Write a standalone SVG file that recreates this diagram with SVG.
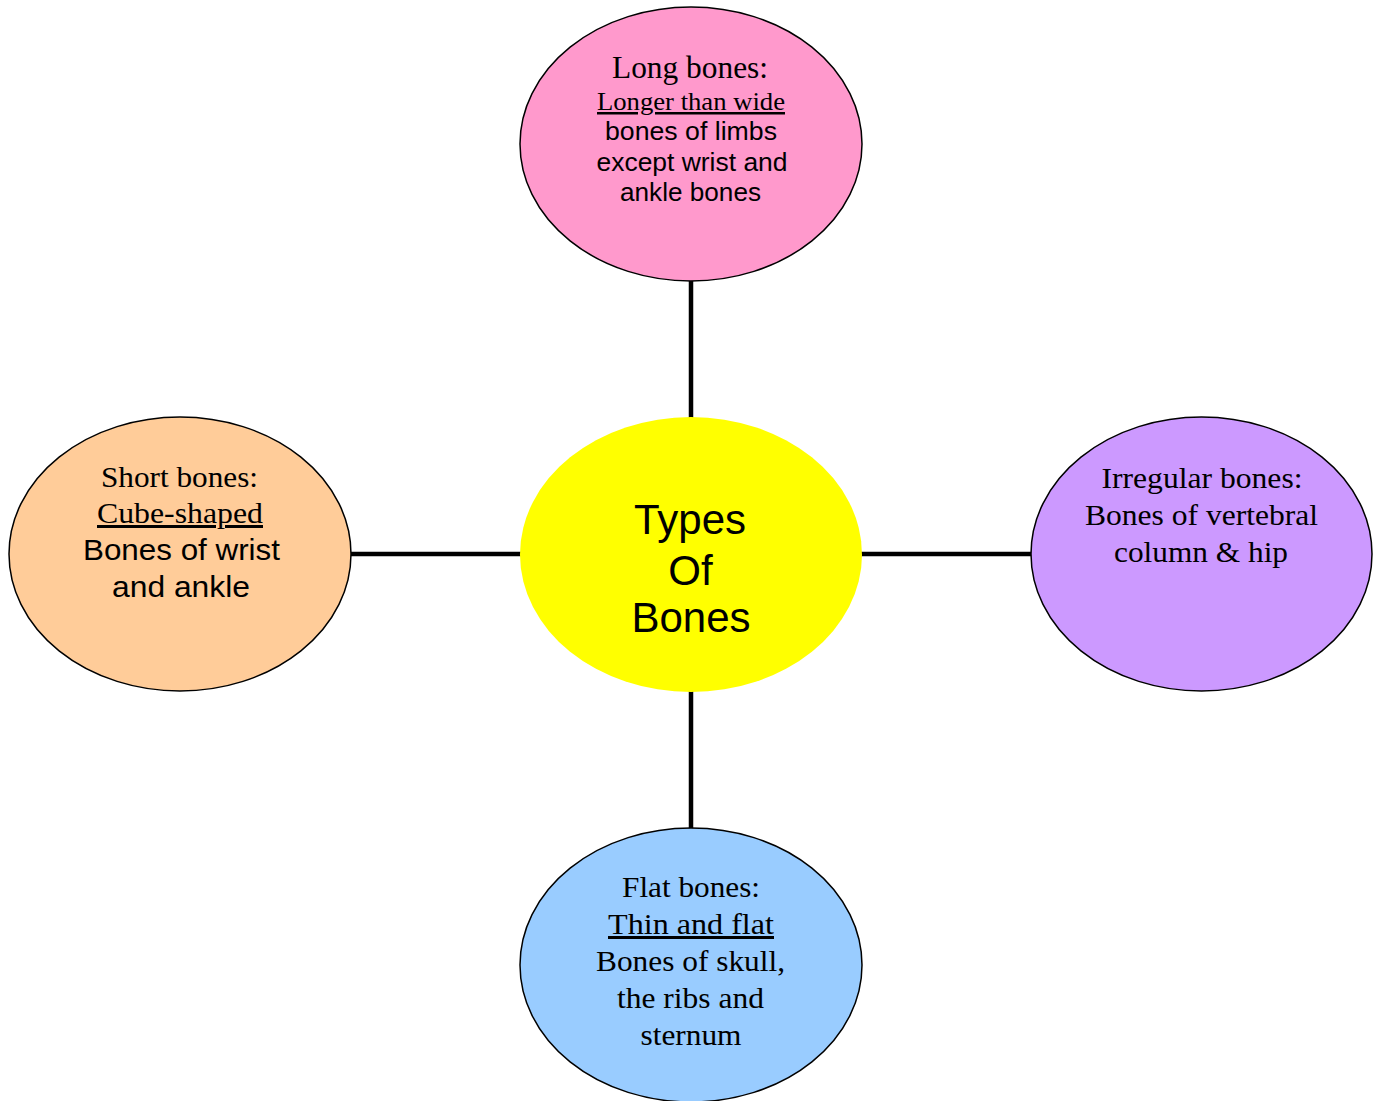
<svg xmlns="http://www.w3.org/2000/svg" width="1378" height="1101" viewBox="0 0 1378 1101">
<style>
.node{stroke:#000;stroke-width:1.5}
.serif{font-family:"Liberation Serif","Times New Roman",serif;fill:#000;text-anchor:middle}
.sans{font-family:"Liberation Sans",Arial,sans-serif;fill:#000;text-anchor:middle}
.u{text-decoration:underline}
.conn{stroke:#000;stroke-width:4.5;fill:none}
</style>
<rect width="1378" height="1101" fill="#fff"/>
<g id="connectors">
<line class="conn" x1="691" y1="281" x2="691" y2="418"/>
<line class="conn" x1="691" y1="691" x2="691" y2="829"/>
<line class="conn" x1="350" y1="554" x2="521" y2="554"/>
<line class="conn" x1="861" y1="554" x2="1032" y2="554"/>
</g>
<g id="center">
<ellipse cx="691" cy="554.5" rx="171" ry="137.5" fill="#FFFF00"/>
<text class="sans" font-size="42"><tspan x="690" y="534">Types</tspan><tspan x="690.5" y="585">Of</tspan><tspan x="691" y="632">Bones</tspan></text>
</g>
<g id="long-bones">
<ellipse class="node" cx="691" cy="144" rx="171" ry="137" fill="#FF99CC"/>
<text class="serif" font-size="30.5" x="690" y="78" textLength="156" lengthAdjust="spacingAndGlyphs">Long bones:</text>
<text class="serif u" font-size="25" x="691" y="110" textLength="188" lengthAdjust="spacingAndGlyphs">Longer than wide</text>
<text class="sans" font-size="25.5" x="691" y="140" textLength="172" lengthAdjust="spacingAndGlyphs">bones of limbs</text>
<text class="sans" font-size="25.5" x="692" y="171" textLength="191" lengthAdjust="spacingAndGlyphs">except wrist and</text>
<text class="sans" font-size="25.5" x="690.5" y="201" textLength="141" lengthAdjust="spacingAndGlyphs">ankle bones</text>
</g>
<g id="short-bones">
<ellipse class="node" cx="180" cy="554" rx="171" ry="137" fill="#FFCC99"/>
<text class="serif" font-size="30" x="179.5" y="487" textLength="157" lengthAdjust="spacingAndGlyphs">Short bones:</text>
<text class="serif u" font-size="30" x="180" y="523" textLength="166" lengthAdjust="spacingAndGlyphs">Cube-shaped</text>
<text class="sans" font-size="29" x="181.5" y="560" textLength="197" lengthAdjust="spacingAndGlyphs">Bones of wrist</text>
<text class="sans" font-size="29" x="181" y="597" textLength="138" lengthAdjust="spacingAndGlyphs">and ankle</text>
</g>
<g id="irregular-bones">
<ellipse class="node" cx="1201.5" cy="554" rx="170.5" ry="137" fill="#CC99FF"/>
<text class="serif" font-size="30" x="1202" y="488" textLength="201" lengthAdjust="spacingAndGlyphs">Irregular bones:</text>
<text class="serif" font-size="30" x="1201.5" y="525" textLength="233" lengthAdjust="spacingAndGlyphs">Bones of vertebral</text>
<text class="serif" font-size="30" x="1201" y="562" textLength="174" lengthAdjust="spacingAndGlyphs">column &amp; hip</text>
</g>
<g id="flat-bones">
<ellipse class="node" cx="691" cy="965" rx="171" ry="137" fill="#99CCFF"/>
<text class="serif" font-size="30" x="691" y="897" textLength="138" lengthAdjust="spacingAndGlyphs">Flat bones:</text>
<text class="serif u" font-size="30" x="691" y="934" textLength="166" lengthAdjust="spacingAndGlyphs">Thin and flat</text>
<text class="serif" font-size="30" x="690.5" y="971" textLength="189" lengthAdjust="spacingAndGlyphs">Bones of skull,</text>
<text class="serif" font-size="30" x="690.5" y="1008" textLength="147" lengthAdjust="spacingAndGlyphs">the ribs and</text>
<text class="serif" font-size="30" x="691" y="1045" textLength="101" lengthAdjust="spacingAndGlyphs">sternum</text>
</g>
</svg>
